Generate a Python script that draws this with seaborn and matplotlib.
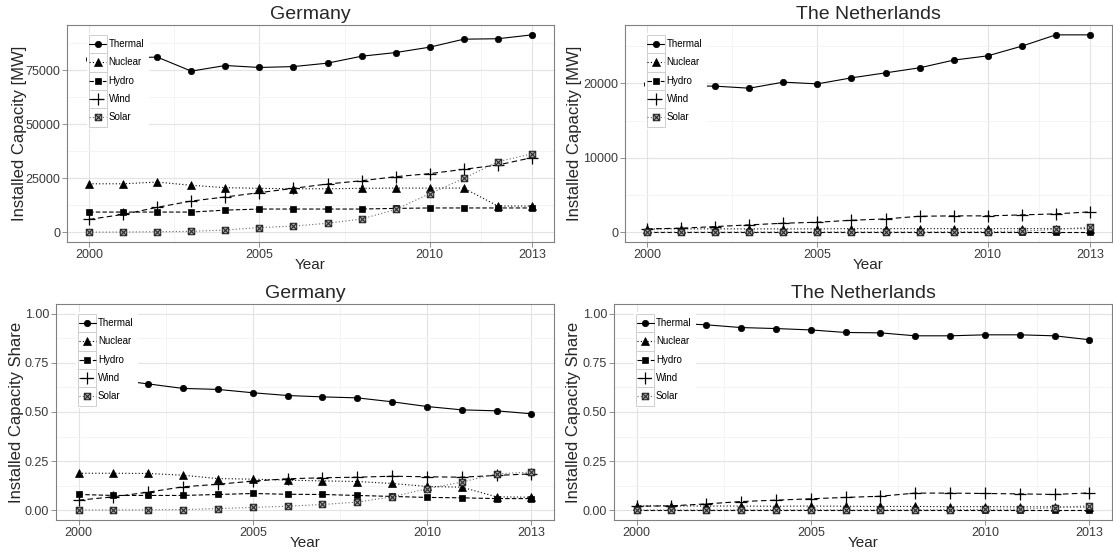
import matplotlib
matplotlib.use("Agg")
import matplotlib.pyplot as plt
import seaborn as sns
import pandas as pd
from matplotlib.path import Path
from matplotlib.lines import Line2D
from matplotlib.patches import Rectangle
from matplotlib.ticker import FixedLocator, FixedFormatter

years = list(range(2000, 2014))
sources = ["Thermal", "Nuclear", "Hydro", "Wind", "Solar"]
countries = ["Germany", "The Netherlands"]

# Installed capacity [MW], Germany
de_thermal = [80400, 80800, 81200, 74700, 77300, 76400, 76800, 78400, 81600, 83300, 85800, 89500, 89700, 91500]
de_nuclear = [22500, 22500, 23300, 21800, 20700, 20400, 20200, 20200, 20400, 20500, 20500, 20500, 12200, 12200]
de_hydro = [9400, 9400, 9400, 9400, 10300, 10800, 10800, 10800, 10800, 11100, 11300, 11300, 11300, 11300]
de_wind = [6000, 8300, 11600, 14500, 16400, 18400, 20400, 22400, 23900, 25800, 27200, 29200, 31200, 34600]
de_solar = [100, 150, 300, 450, 1100, 2200, 2900, 4200, 6200, 10600, 17900, 25000, 32700, 36400]

# Installed capacity [MW], The Netherlands
nl_thermal = [19900, 19700, 19640, 19370, 20180, 19950, 20760, 21430, 22110, 23140, 23720, 25020, 26540, 26540]
nl_nuclear = [450, 450, 450, 450, 450, 450, 485, 485, 485, 485, 485, 485, 485, 485]
nl_hydro = [37, 37, 37, 37, 37, 37, 37, 37, 37, 37, 37, 37, 37, 37]
nl_wind = [450, 540, 760, 990, 1210, 1345, 1610, 1790, 2150, 2200, 2200, 2330, 2470, 2735]
nl_solar = [13, 20, 26, 46, 50, 51, 53, 53, 57, 67, 90, 150, 370, 700]

# Installed capacity share, Germany
de_thermal_sh = [0.680, 0.665, 0.643, 0.620, 0.615, 0.598, 0.584, 0.577, 0.572, 0.552, 0.528, 0.511, 0.506, 0.491]
de_nuclear_sh = [0.188, 0.188, 0.187, 0.178, 0.161, 0.158, 0.153, 0.149, 0.146, 0.136, 0.121, 0.117, 0.068, 0.066]
de_hydro_sh = [0.080, 0.075, 0.075, 0.075, 0.080, 0.085, 0.081, 0.080, 0.075, 0.070, 0.065, 0.063, 0.059, 0.059]
de_wind_sh = [0.051, 0.068, 0.092, 0.119, 0.132, 0.148, 0.160, 0.165, 0.168, 0.173, 0.170, 0.168, 0.177, 0.185]
de_solar_sh = [0.001, 0.001, 0.002, 0.003, 0.008, 0.014, 0.020, 0.029, 0.041, 0.068, 0.109, 0.143, 0.185, 0.194]

# Installed capacity share, The Netherlands
nl_thermal_sh = [0.955, 0.952, 0.944, 0.930, 0.925, 0.918, 0.905, 0.903, 0.888, 0.888, 0.893, 0.893, 0.888, 0.868]
nl_nuclear_sh = [0.022, 0.022, 0.021, 0.021, 0.020, 0.021, 0.020, 0.019, 0.019, 0.018, 0.018, 0.017, 0.017, 0.016]
nl_hydro_sh = [0.002, 0.002, 0.002, 0.002, 0.002, 0.002, 0.002, 0.002, 0.002, 0.002, 0.002, 0.002, 0.002, 0.002]
nl_wind_sh = [0.020, 0.022, 0.032, 0.044, 0.051, 0.058, 0.065, 0.071, 0.087, 0.087, 0.085, 0.083, 0.080, 0.088]
nl_solar_sh = [0.001, 0.001, 0.001, 0.002, 0.002, 0.002, 0.002, 0.002, 0.002, 0.003, 0.004, 0.005, 0.012, 0.023]

x_ticks = [2000, 2005, 2010, 2013]
cap_ticks_de = [0, 25000, 50000, 75000]
cap_ticks_nl = [0, 10000, 20000]
share_ticks = [0.0, 0.25, 0.5, 0.75, 1.0]


def long_frame(series):
    rows = []
    for src, vals in zip(sources, series):
        for y, v in zip(years, vals):
            rows.append({"Year": y, "Source": src, "value": v})
    return pd.DataFrame(rows)


df_cap = {
    "Germany": long_frame([de_thermal, de_nuclear, de_hydro, de_wind, de_solar]),
    "The Netherlands": long_frame([nl_thermal, nl_nuclear, nl_hydro, nl_wind, nl_solar]),
}
df_share = {
    "Germany": long_frame([de_thermal_sh, de_nuclear_sh, de_hydro_sh, de_wind_sh, de_solar_sh]),
    "The Netherlands": long_frame([nl_thermal_sh, nl_nuclear_sh, nl_hydro_sh, nl_wind_sh, nl_solar_sh]),
}

sns.set_style("white")
plt.rcParams["font.family"] = ["Liberation Sans", "DejaVu Sans"]

# square with a cross inside (open square + diagonals)
square_cross = Path(
    [(-1, -1), (1, -1), (1, 1), (-1, 1), (-1, -1), (1, 1), (-1, 1), (1, -1)],
    [Path.MOVETO, Path.LINETO, Path.LINETO, Path.LINETO, Path.LINETO, Path.LINETO,
     Path.MOVETO, Path.LINETO],
)

styles = {
    "Thermal": dict(color="black", linestyle="-", marker="o", markersize=4.6,
                    markerfacecolor="black", markeredgecolor="black", markeredgewidth=0.5),
    "Nuclear": dict(color="black", linestyle=(0, (1, 2)), marker="^", markersize=5.2,
                    markerfacecolor="black", markeredgecolor="black", markeredgewidth=0.5),
    "Hydro": dict(color="black", linestyle=(0, (4, 2)), marker="s", markersize=4.8,
                  markerfacecolor="black", markeredgecolor="black", markeredgewidth=0.5),
    "Wind": dict(color="black", linestyle=(0, (5, 3)), marker="+", markersize=8,
                 markerfacecolor="black", markeredgecolor="black", markeredgewidth=0.9),
    "Solar": dict(color="#6A6A6A", linestyle=(0, (1, 2)), marker=square_cross, markersize=4.6,
                  markerfacecolor="#A8A8A8", markeredgecolor="#2A2A2A", markeredgewidth=0.8),
}

W, H = 1113, 554
fig = plt.figure(figsize=(W / 100, H / 100), dpi=100)
fig.patch.set_facecolor("white")


def add_panel(l, t, r, b):
    return fig.add_axes([l / W, 1 - b / H, (r - l) / W, (b - t) / H])


def draw_key(ax, dx=22, dy=10, kw=18.3, kh=18.3):
    bb = ax.get_position()
    aw, ah = bb.width * W, bb.height * H

    def fx(px):
        return px / aw

    def fy(py):
        return 1 - py / ah

    ax.add_patch(Rectangle((fx(dx - 2), fy(dy + 5 * kh + 2)), fx(62), (5 * kh + 4) / ah,
                           transform=ax.transAxes, facecolor="white", edgecolor="none",
                           zorder=10))
    for i, src in enumerate(sources):
        top = dy + i * kh
        ax.add_patch(Rectangle((fx(dx), fy(top + kh)), fx(kw), kh / ah,
                               transform=ax.transAxes, facecolor="white",
                               edgecolor="#CFCFCF", lw=0.7, zorder=11))
        yc = fy(top + kh / 2)
        st = dict(styles[src])
        ax.add_line(Line2D([fx(dx + 0.5), fx(dx + kw / 2), fx(dx + kw - 0.5)], [yc, yc, yc],
                           transform=ax.transAxes, zorder=12, linewidth=0.8,
                           markevery=[1], **st))
        ax.text(fx(dx + kw + 1.5), yc, src, transform=ax.transAxes, fontsize=7,
                va="center", ha="left", color="black", zorder=12)


def style_panel(ax, country, yticks, ylabels, yminor, ylim, ylabel, ylabel_x):
    ax.set_xlim(1999.35, 2013.65)
    ax.set_ylim(*ylim)
    ax.xaxis.set_major_locator(FixedLocator(x_ticks))
    ax.xaxis.set_major_formatter(FixedFormatter([str(t) for t in x_ticks]))
    ax.xaxis.set_minor_locator(FixedLocator([2002.5, 2007.5, 2011.5]))
    ax.yaxis.set_major_locator(FixedLocator(yticks))
    ax.yaxis.set_major_formatter(FixedFormatter(ylabels))
    ax.yaxis.set_minor_locator(FixedLocator(yminor))
    ax.grid(which="major", color="#E3E3E3", linewidth=0.8)
    ax.grid(which="minor", color="#F3F3F3", linewidth=0.6)
    ax.set_axisbelow(True)
    for sp in ax.spines.values():
        sp.set_visible(True)
        sp.set_color("#808080")
        sp.set_linewidth(0.8)
    ax.tick_params(which="major", direction="out", length=3.5, width=0.6, color="#808080",
                   labelsize=9, labelcolor="#3A3A3A", pad=1.5, bottom=True, left=True)
    ax.tick_params(which="minor", length=0)
    ax.set_title(country, fontsize=14, pad=4)
    ax.set_xlabel("Year", fontsize=11)
    ax.xaxis.label.set_va("center")
    ax.xaxis.set_label_coords(0.5, -0.105)
    ax.set_ylabel(ylabel, fontsize=12)
    ax.yaxis.label.set_va("center")
    ax.yaxis.set_label_coords(ylabel_x, 0.5)


def draw_series(ax, df):
    for k, src in enumerate(sources):
        sub = df[df["Source"] == src]
        sns.lineplot(data=sub, x="Year", y="value", ax=ax, errorbar=None, legend=False,
                     linewidth=0.8, zorder=3 + k, **styles[src])


def padded(df):
    lo, hi = df["value"].min(), df["value"].max()
    pad = 0.05 * (hi - lo)
    return lo - pad, hi + pad


panels = [
    ("Germany", (67, 25, 554, 242), "cap", -0.097),
    ("The Netherlands", (625, 25, 1112, 242), "cap", -0.103),
    ("Germany", (56, 304, 554, 520), "share", -0.080),
    ("The Netherlands", (614, 304, 1112, 520), "share", -0.082),
]

for country, box, kind, ylx in panels:
    ax = add_panel(*box)
    if kind == "cap":
        df = df_cap[country]
        draw_series(ax, df)
        if country == "Germany":
            yt = cap_ticks_de
            ymin = [12500, 37500, 62500, 87500]
        else:
            yt = cap_ticks_nl
            ymin = [5000, 15000, 25000]
        style_panel(ax, country, yt, [str(t) for t in yt], ymin, padded(df),
                    "Installed Capacity [MW]", ylx)
    else:
        df = df_share[country]
        draw_series(ax, df)
        style_panel(ax, country, share_ticks, ["%.2f" % t for t in share_ticks],
                    [0.125, 0.375, 0.625, 0.875], (-0.05, 1.05),
                    "Installed Capacity Share", ylx)
    draw_key(ax, dx=0.0445 * (box[2] - box[0]), dy=10)

fig.savefig("out.png", dpi=100, facecolor="white")
